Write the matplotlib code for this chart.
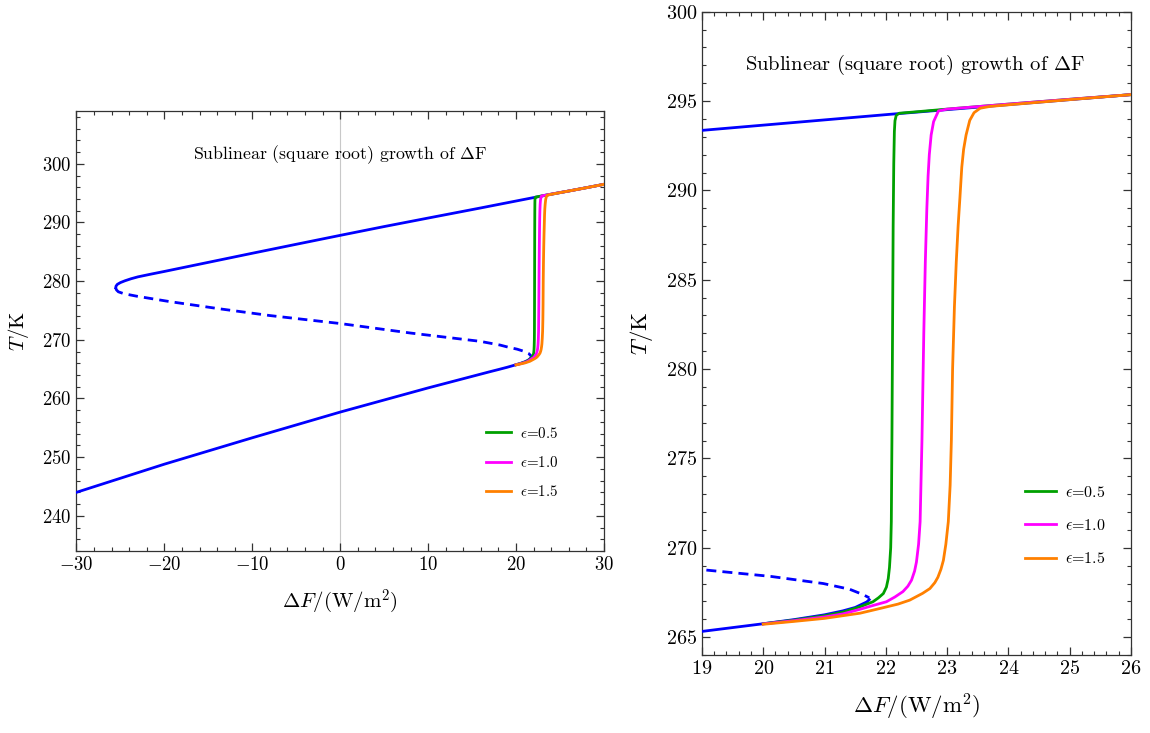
import numpy as np
import matplotlib
matplotlib.use("Agg")
from matplotlib import pyplot as plt
from matplotlib.ticker import MultipleLocator

plt.rcParams['font.family'] = ['cmr10']
plt.rcParams['mathtext.fontset'] = 'cm'
plt.rcParams['axes.formatter.use_mathtext'] = True
plt.rcParams['axes.unicode_minus'] = True

# blue S-curve (equilibrium temperature vs forcing)
upper_F = [-25.54, -25.5, -25.35, -25.0, -24.5, -23.8, -23.0, -21.5, -20.0, -15.0, -10.0, -5.0, 0.0,
           5.0, 10.0, 15.9, 19.0, 22.07, 26.0, 30.0]
upper_T = [278.86, 279.15, 279.45, 279.75, 280.05, 280.4, 280.73, 281.2, 281.65, 283.2, 284.75, 286.28, 287.8,
           289.3, 290.75, 292.45, 293.36, 294.26, 295.36, 296.5]

unstable_F = [-25.54, -25.45, -25.24, -24.6, -23.15, -21.0, -19.36, -13.67, -8.0, 0.0, 8.0, 15.9, 18.18,
              19.08, 20.12, 20.98, 21.41, 21.63, 21.73]
unstable_T = [278.86, 278.5, 278.18, 277.85, 277.43, 276.9, 276.5, 275.27, 274.13, 272.77, 271.15, 269.74, 269.1,
              268.75, 268.4, 268.0, 267.68, 267.38, 267.2]

lower_F = [-30.0, -20.0, -10.0, 0.0, 10.0, 17.0, 18.0, 19.0, 20.0, 20.5, 21.0, 21.3, 21.5, 21.69, 21.73]
lower_T = [244.0, 248.8, 253.3, 257.68, 261.8, 264.55, 264.93, 265.32, 265.75, 265.98, 266.25, 266.47, 266.66,
           266.97, 267.1]

# time-dependent runs for different epsilon
eps_labels = [r'$\epsilon$=0.5', r'$\epsilon$=1.0', r'$\epsilon$=1.5']
eps_colors = ['#00a000', '#ff00ff', '#ff8000']

green_F = [20.0, 20.5, 21.0, 21.3, 21.58, 21.79, 21.88, 21.96, 22.01, 22.04, 22.06, 22.08, 22.09, 22.10,
           22.11, 22.12, 22.13, 22.14, 22.15, 22.17, 22.22, 22.5, 23.0, 24.0, 25.0, 26.0, 28.0, 30.0]
green_T = [265.75, 265.95, 266.2, 266.4, 266.7, 266.98, 267.2, 267.44, 267.8, 268.28, 268.9, 270.0, 271.46, 276.0,
           282.0, 288.0, 291.5, 293.3, 293.9, 294.2, 294.32, 294.4, 294.55, 294.83, 295.1, 295.36, 295.92, 296.5]

magenta_F = [20.0, 20.5, 21.0, 21.3, 21.58, 21.8, 22.01, 22.15, 22.28, 22.36, 22.42, 22.47, 22.5, 22.535, 22.56,
             22.59, 22.62, 22.645, 22.67, 22.69, 22.71, 22.74, 22.78, 22.86, 23.0, 23.5, 24.0, 25.0, 26.0, 28.0, 30.0]
magenta_T = [265.74, 265.92, 266.13, 266.3, 266.56, 266.78, 266.98, 267.25, 267.55, 267.85, 268.19, 268.7, 269.2,
             270.2, 271.46, 276.0, 282.0, 286.0, 289.0, 290.8, 292.0, 293.1, 293.85, 294.45, 294.55, 294.69,
             294.83, 295.1, 295.36, 295.92, 296.5]

orange_F = [20.0, 20.5, 21.0, 21.58, 21.9, 22.2, 22.39, 22.6, 22.72, 22.8, 22.85, 22.9, 22.94, 22.98, 23.02,
            23.05, 23.07, 23.09, 23.12, 23.15, 23.18, 23.21, 23.24, 23.27, 23.31, 23.37, 23.44, 23.54, 23.7,
            24.0, 25.0, 26.0, 28.0, 30.0]
orange_T = [265.72, 265.88, 266.05, 266.34, 266.6, 266.85, 267.07, 267.45, 267.72, 268.05, 268.35, 268.8, 269.3,
            270.2, 271.46, 273.5, 276.0, 280.0, 283.5, 286.0, 288.0, 289.61, 291.3, 292.3, 293.1, 293.92,
            294.35, 294.6, 294.7, 294.79, 295.08, 295.36, 295.92, 296.5]

eps_F = [green_F, magenta_F, orange_F]
eps_T = [green_T, magenta_T, orange_T]

title = r'Sublinear (square root) growth of $\Delta$F'

fig = plt.figure(figsize=(11.5, 7.33), dpi=100)
ax1 = fig.add_axes([0.0665, 0.2483, 0.4587, 0.6003])
ax2 = fig.add_axes([0.6104, 0.1064, 0.3730, 0.8776])


def draw(ax, dash):
    ax.plot(upper_F, upper_T, color='#0000ff', lw=2.0, zorder=3)
    ax.plot(lower_F, lower_T, color='#0000ff', lw=2.0, zorder=3)
    ax.plot(unstable_F, unstable_T, color='#0000ff', lw=2.0, ls=(0, dash), zorder=3)
    for F, T, c, lab in zip(eps_F, eps_T, eps_colors, eps_labels):
        ax.plot(F, T, color=c, lw=2.0, label=lab, zorder=4)
    ax.tick_params(which='both', direction='in', top=True, right=True, colors='#333333',
                   labelcolor='black')
    ax.tick_params(which='major', length=5.5, width=0.9)
    ax.tick_params(which='minor', length=3.2, width=0.8)
    for s in ax.spines.values():
        s.set_color('#333333')
        s.set_linewidth(0.9)


# left: full bifurcation diagram
draw(ax1, (3.4, 2.2))
ax1.tick_params(labelsize=13.5)
ax1.axvline(0, color='#c8c8c8', lw=0.8, zorder=1)
ax1.set_xlim(-30, 30)
ax1.set_ylim(234, 309)
ax1.xaxis.set_major_locator(MultipleLocator(10))
ax1.xaxis.set_minor_locator(MultipleLocator(2))
ax1.yaxis.set_major_locator(MultipleLocator(10))
ax1.yaxis.set_minor_locator(MultipleLocator(2))
ax1.set_xlabel(r'$\Delta F/(\mathrm{W/m}^2)$', fontsize=15, labelpad=10)
ax1.set_ylabel(r'$T/\mathrm{K}$', fontsize=15, labelpad=8)
ax1.text(0.5, 0.9, title, transform=ax1.transAxes, ha='center', va='center', fontsize=12.8)
ax1.legend(loc='upper left', bbox_to_anchor=(0.776, 0.285), frameon=False, fontsize=10.8,
           handlelength=1.65, handletextpad=0.6, labelspacing=0.95, borderpad=0, borderaxespad=0)

# right: zoom on the upper fold
draw(ax2, (3.6, 2.2))
ax2.tick_params(labelsize=14.5)
ax2.set_xlim(19, 26)
ax2.set_ylim(264, 300)
ax2.xaxis.set_major_locator(MultipleLocator(1))
ax2.xaxis.set_minor_locator(MultipleLocator(0.2))
ax2.yaxis.set_major_locator(MultipleLocator(5))
ax2.yaxis.set_minor_locator(MultipleLocator(1))
ax2.set_xlabel(r'$\Delta F/(\mathrm{W/m}^2)$', fontsize=16.5, labelpad=10)
ax2.set_ylabel(r'$T/\mathrm{K}$', fontsize=16.5, labelpad=8)
ax2.text(0.497, 0.918, title, transform=ax2.transAxes, ha='center', va='center', fontsize=14.8)
ax2.legend(loc='upper left', bbox_to_anchor=(0.752, 0.265), frameon=False, fontsize=11.5,
           handlelength=2.0, handletextpad=0.55, labelspacing=1.15, borderpad=0, borderaxespad=0)

fig.savefig('out.png', dpi=100)
